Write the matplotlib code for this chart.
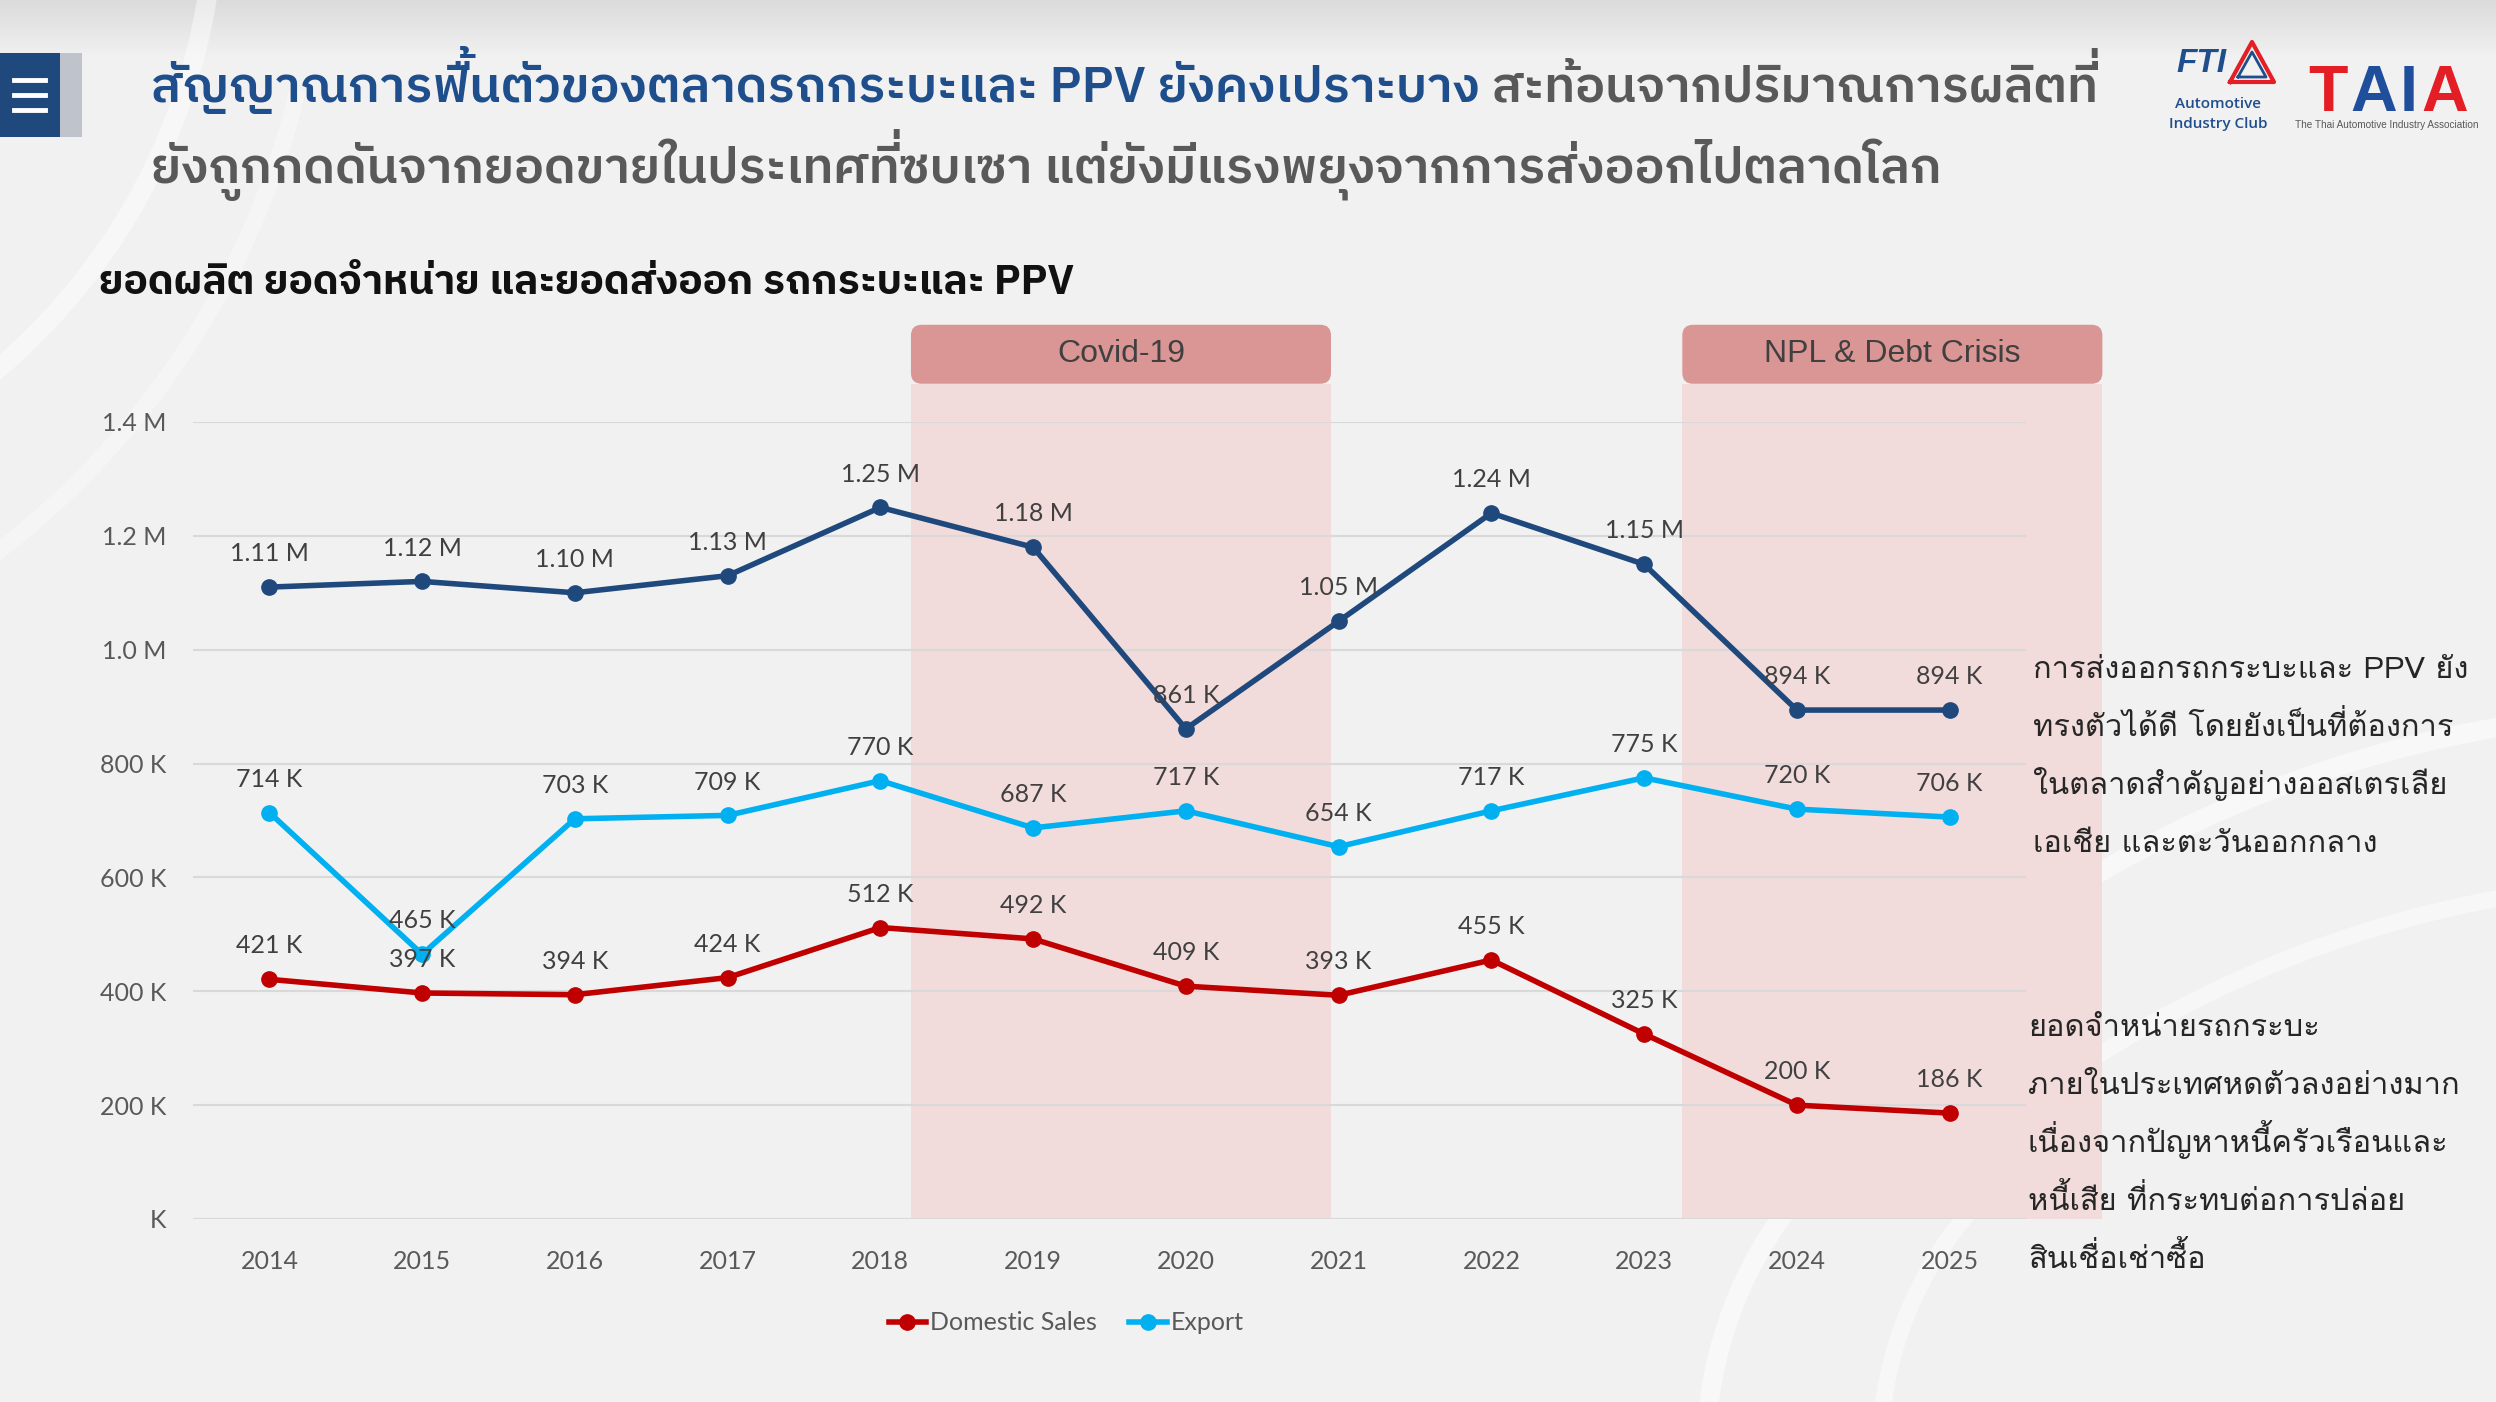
import numpy as np
import matplotlib
matplotlib.use("Agg")
import matplotlib.pyplot as plt
from matplotlib import font_manager
from matplotlib.font_manager import FontProperties
from matplotlib.ft2font import FT2Font
from matplotlib.patches import Rectangle, FancyBboxPatch
from matplotlib.transforms import blended_transform_factory
from matplotlib.lines import Line2D

# ---- data (thousand units) ----
years = [2014, 2015, 2016, 2017, 2018, 2019, 2020, 2021, 2022, 2023, 2024, 2025]
production = [1110, 1120, 1100, 1130, 1250, 1180, 861, 1050, 1240, 1150, 894, 894]
domestic = [421, 397, 394, 424, 512, 492, 409, 393, 455, 325, 200, 186]
export = [714, 465, 703, 709, 770, 687, 717, 654, 717, 775, 720, 706]
y_ticks = [0, 200, 400, 600, 800, 1000, 1200, 1400]
periods = [("Covid-19", 2018.2, 2020.95), ("NPL & Debt Crisis", 2023.25, 2026.0)]

title_blue = "สัญญาณการฟื้นตัวของตลาดรถกระบะและ PPV ยังคงเปราะบาง"
title_gray = " สะท้อนจากปริมาณการผลิตที่"
title_line2 = "ยังถูกกดดันจากยอดขายในประเทศที่ซบเซา แต่ยังมีแรงพยุงจากการส่งออกไปตลาดโลก"
subtitle = "ยอดผลิต ยอดจำหน่าย และยอดส่งออก รถกระบะและ PPV"
note_export = ["การส่งออกรถกระบะและ PPV ยัง", "ทรงตัวได้ดี โดยยังเป็นที่ต้องการ",
               "ในตลาดสำคัญอย่างออสเตรเลีย", "เอเชีย และตะวันออกกลาง"]
note_domestic = ["ยอดจำหน่ายรถกระบะ", "ภายในประเทศหดตัวลงอย่างมาก",
                 "เนื่องจากปัญหาหนี้ครัวเรือนและ", "หนี้เสีย ที่กระทบต่อการปล่อย",
                 "สินเชื่อเช่าซื้อ"]

# colours
c_prod = "#1F497D"
c_dom = "#C00000"
c_exp = "#00B0F0"
c_title = "#1F4E8C"
c_gray = "#595959"

# ---- Thai font handling (matplotlib does no shaping) ----
installed = {f.name for f in font_manager.fontManager.ttflist}


def pick(*names):
    for n in names:
        if n in installed:
            return n
    return "DejaVu Sans"


title_font = pick("IBM Plex Sans Thai", "Noto Sans Thai", "Loma")
sub_font = pick("IBM Plex Sans Thai", "Noto Sans Thai", "Loma")
note_font = pick("Loma", "Noto Sans Thai Looped", "Noto Sans Thai")


def has_pua(name):
    try:
        path = font_manager.findfont(FontProperties(family=name))
        return 0xF70A in FT2Font(path).get_charmap()
    except Exception:
        return False


UPPER_V = "\u0e31\u0e34\u0e35\u0e36\u0e37\u0e47\u0e4d"
TONES = "\u0e48\u0e49\u0e4a\u0e4b\u0e4c"
ASC = "ปฝฟฬ"
UP_LEFT = {"\u0e31": 0xF710, "\u0e34": 0xF701, "\u0e35": 0xF702, "\u0e36": 0xF703,
           "\u0e37": 0xF704, "\u0e47": 0xF712, "\u0e4d": 0xF711}


def shape_pua(s):
    # legacy (PUA) positioning for fonts whose tone marks sit high by default
    out, base, upper = [], "", False
    for i, ch in enumerate(s):
        nxt = s[i + 1] if i + 1 < len(s) else ""
        if "\u0e01" <= ch <= "\u0e2e":
            base, upper = ch, False
            out.append(ch)
        elif ch in UP_LEFT:
            upper = True
            out.append(chr(UP_LEFT[ch]) if base in ASC else ch)
        elif ch in TONES:
            k = TONES.index(ch)
            if upper or nxt == "\u0e33":
                out.append(chr(0xF713 + k) if base in ASC else ch)
            else:
                out.append(chr(0xF705 + k) if base in ASC else chr(0xF70A + k))
        else:
            out.append(ch)
    return "".join(out)


def split_marks(s):
    # pull out tone marks stacked on upper vowels, they get drawn raised later
    clean, marks = "", []
    for ch in s:
        if ch in TONES and clean and clean[-1] in UPPER_V:
            marks.append((len(clean), ch))
        else:
            clean += ch
    return clean, marks


marked = []


def thai_text(x, y, s, font, **kw):
    fam = [font, "DejaVu Sans"]
    if has_pua(font):
        return fig.text(x, y, shape_pua(s), family=fam, **kw)
    clean, marks = split_marks(s)
    t = fig.text(x, y, clean, family=fam, **kw)
    if marks:
        marked.append((t, marks))
    return t


def fmt(v):
    if v >= 1000:
        return f"{v / 1000:.2f} M"
    return f"{v:.0f} K"


def fmt_tick(v):
    if v == 0:
        return "K"
    if v >= 1000:
        return f"{v / 1000:.1f} M"
    return f"{v:.0f} K"


W, H = 2496, 1402
fx = lambda px: px / W
fy = lambda py: 1 - py / H

fig = plt.figure(figsize=(W / 100, H / 100), dpi=100, facecolor="#F2F2F2")

# background: top shade + faint swooshes
bg = fig.add_axes([0, 0, 1, 1], zorder=-10)
grad = np.ones((H, 1)) * 0.949
grad[:60, 0] = np.linspace(0.86, 0.949, 60)
bg.imshow(np.dstack([grad] * 3), aspect="auto", extent=(0, W, H, 0))
swooshes = [(-400, -100, 615, 3, 58, 14, 0.45), (-500, -100, 820, 14, 56, 12, 0.3),
            (2112, 1453, 406, 183, 232, 14, 0.5), (2250, 1453, 370, 185, 228, 12, 0.45),
            (2700, 1900, 1190, 232, 276, 14, 0.5), (2700, 2000, 1120, 232, 276, 12, 0.45)]
for cx, cy, rad, a0, a1, lw, al in swooshes:
    th = np.radians(np.linspace(a0, a1, 200))
    bg.plot(cx + rad * np.cos(th), cy + rad * np.sin(th), color="white", lw=lw, alpha=al)
bg.set_xlim(0, W)
bg.set_ylim(H, 0)
bg.axis("off")

# hamburger header icon
fig.add_artist(Rectangle((0, fy(137)), fx(60), 84 / H, transform=fig.transFigure, fc=c_prod, ec="none"))
fig.add_artist(Rectangle((fx(60), fy(137)), fx(22), 84 / H, transform=fig.transFigure, fc="#BFC3CC", ec="none"))
for yy in (80, 95, 110):
    fig.add_artist(Line2D([fx(14), fx(45)], [fy(yy), fy(yy)], transform=fig.transFigure,
                          color="white", lw=3.5))

# main axes
ax = fig.add_axes([fx(193), fy(1219), fx(2026 - 193), (1219 - 422) / H])
ax.set_facecolor("none")
x = np.arange(len(years))

tr = blended_transform_factory(ax.transData, ax.transAxes)
aspect = ((2026 - 193) / 12) / (1219 - 422)
for name, start, end in periods:
    x0 = start - years[0]
    w = end - start
    ax.add_patch(Rectangle((x0, 0), w, 1.048, transform=tr, fc="#F2DCDB", ec="none",
                           zorder=0.2, clip_on=False))
    ax.add_patch(FancyBboxPatch((x0, 1.048), w, 0.074, boxstyle="round,pad=0,rounding_size=0.07",
                                mutation_aspect=aspect, transform=tr, fc="#DA9694", ec="none",
                                zorder=0.3, clip_on=False))
    ax.text(x0 + w / 2, 1.085, name, transform=tr, ha="center", va="center", fontsize=23,
            color="#404040", family=["Liberation Sans", "DejaVu Sans"])

ax.plot(x, production, color=c_prod, lw=4, marker="o", ms=11, zorder=3)
l_dom, = ax.plot(x, domestic, color=c_dom, lw=4, marker="o", ms=11, zorder=3)
l_exp, = ax.plot(x, export, color=c_exp, lw=4, marker="o", ms=11, zorder=3)

num_fam = ["Lato", "DejaVu Sans"]
for series in (production, export, domestic):
    for xi, v in zip(x, series):
        ax.annotate(fmt(v), (xi, v), xytext=(0, 24), textcoords="offset points", ha="center",
                    va="center", fontsize=18, color="#404040", family=num_fam, zorder=4)

ax.set_xlim(-0.5, 11.5)
ax.set_ylim(0, 1400)
ax.set_xticks(x)
ax.set_xticklabels([str(y) for y in years])
ax.set_yticks(y_ticks)
ax.set_yticklabels([fmt_tick(v) for v in y_ticks])
ax.grid(axis="y", color="#D9D9D9", lw=1.5)
ax.set_axisbelow(True)
for s in ax.spines.values():
    s.set_visible(False)
ax.tick_params(length=0, labelsize=18, labelcolor=c_gray)
ax.tick_params(axis="y", pad=19)
ax.tick_params(axis="x", pad=22)
for lab in ax.get_xticklabels() + ax.get_yticklabels():
    lab.set_family(num_fam)

leg = fig.legend([l_dom, l_exp], ["Domestic Sales", "Export"], loc="center",
                 bbox_to_anchor=(fx(1066), fy(1323)), ncol=2, frameon=False,
                 handlelength=1.5, handletextpad=0.15, columnspacing=1.3,
                 prop={"family": num_fam, "size": 18})
for t in leg.get_texts():
    t.set_color(c_gray)

# titles
t1 = thai_text(fx(151), fy(102), title_blue, title_font, color=c_title, fontsize=30,
               weight="semibold", va="baseline")
t2 = thai_text(fx(1300), fy(102), title_gray, title_font, color=c_gray, fontsize=30,
               weight="semibold", va="baseline")
t3 = thai_text(fx(151), fy(183), title_line2, title_font, color=c_gray, fontsize=30,
               weight="semibold", va="baseline")
t4 = thai_text(fx(99), fy(294), subtitle, sub_font, color="#111111", fontsize=20,
               weight="bold", va="baseline")

notes = []
for i, line in enumerate(note_export):
    notes.append(thai_text(fx(2033), fy(678 + i * 58), line, note_font, color="#262626",
                           fontsize=20, va="baseline"))
for i, line in enumerate(note_domestic):
    notes.append(thai_text(fx(2028), fy(1036 + i * 58), line, note_font, color="#262626",
                           fontsize=20, va="baseline"))

# logos (approximation)
logo_fam = ["Liberation Sans Narrow", "Liberation Sans", "DejaVu Sans"]
fig.text(fx(2226), fy(72), "FTI", color=c_title, fontsize=24, style="italic", weight="bold",
         ha="right", va="baseline", family=logo_fam)
fig.add_artist(Line2D([fx(2230), fx(2252), fx(2274), fx(2230)], [fy(82), fy(42), fy(82), fy(82)],
                      transform=fig.transFigure, color="#E31E24", lw=3))
fig.add_artist(Line2D([fx(2238), fx(2252), fx(2266), fx(2238)], [fy(77), fy(52), fy(77), fy(77)],
                      transform=fig.transFigure, color=c_title, lw=2))
fig.text(fx(2218), fy(108), "Automotive", color=c_title, fontsize=11, ha="center", va="baseline",
         weight="semibold", family=["Open Sans", "DejaVu Sans"])
fig.text(fx(2218), fy(128), "Industry Club", color=c_title, fontsize=11, ha="center", va="baseline",
         weight="semibold", family=["Open Sans", "DejaVu Sans"])
taia = [fig.text(fx(2308), fy(111), ch, color=col, fontsize=50, weight="bold", va="baseline",
                 ha="left", family=logo_fam)
        for ch, col in zip("TAIA", ["#E31E24", "#1F4E9C", "#1F4E9C", "#E31E24"])]
assoc = fig.text(fx(2387), fy(128), "The Thai Automotive Industry Association", color=c_gray,
                 fontsize=6.5, ha="center", va="baseline", family=logo_fam)

# fit Thai text widths to the reference
fig.canvas.draw()
r = fig.canvas.get_renderer()


def fit(t, target):
    w = t.get_window_extent(r).width
    t.set_fontsize(t.get_fontsize() * target / w)


fit(t3, 1791)
t1.set_fontsize(t3.get_fontsize())
t2.set_fontsize(t3.get_fontsize())
t2.set_x(t1.get_window_extent(r).x1 / W)
fit(t4, 972)
fit(notes[0], 436)
for n in notes:
    n.set_fontsize(notes[0].get_fontsize())
fit(assoc, 183)

# logo letters side by side, 3 px apart
gap = 3
ws = sum(t.get_window_extent(r).width for t in taia)
for t in taia:
    t.set_fontsize(t.get_fontsize() * (160 - 3 * gap) / ws)
xpos = 2308
for t in taia:
    t.set_x(xpos / W)
    xpos += t.get_window_extent(r).width + gap


def advance(s, prop):
    w1 = r.get_text_width_height_descent("ก" + s + "ก", prop, ismath=False)[0]
    w0 = r.get_text_width_height_descent("กก", prop, ismath=False)[0]
    return w1 - w0


# raised tone marks above upper vowels (drawn after a space so the text has a width)
for t, marks in marked:
    prop = t.get_fontproperties()
    ox, oy = t.get_transform().transform(t.get_position())
    em = prop.get_size_in_points() * fig.dpi / 72
    s = t.get_text()
    sp = advance(" ", prop)
    for pos, mk in marks:
        vh = r.get_text_width_height_descent(s[pos - 1], prop, ismath=False)[1]
        px = ox + advance(s[:pos], prop) - sp
        py = oy + vh + 0.05 * em
        fig.text(px / W, py / H, " " + mk, fontproperties=prop, color=t.get_color(),
                 ha="left", va="baseline")

fig.savefig("out.png", dpi=100, facecolor=fig.get_facecolor())
